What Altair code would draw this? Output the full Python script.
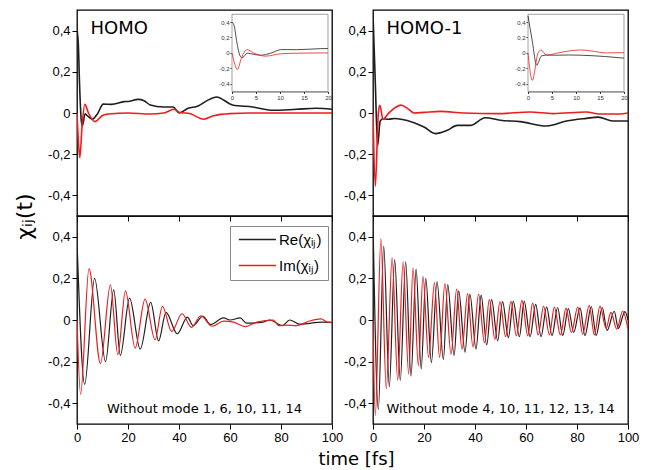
import altair as alt
import pandas as pd

# ---------------- data (t in fs, chi value) ----------------
# HOMO (top-left)
TL_RE_T = [0, 0.5, 1.0, 1.7, 2.1, 3.2, 3.8, 6.0, 8.0, 10.3, 13.5, 18.5, 20.0, 24.0, 26.3, 28.7, 33.9, 37.7, 40.1, 43.6,
           47.5, 51.0, 54.7, 61.0, 68.9, 76.7, 86.0, 93.8, 100]
TL_RE_V = [0.40, 0.34, 0.14, -0.04, -0.062, -0.004, -0.01, -0.03, -0.005, 0.043, 0.042, 0.055, 0.056, 0.066, 0.06,
           0.039, 0.029, 0.029, 0.0, 0.023, 0.034, 0.06, 0.078, 0.039, 0.029, 0.013, 0.018, 0.023, 0.018]
TL_IM_T = [0, 0.6, 1.1, 2.0, 3.1, 4.5, 7.0, 10.0, 12.5, 20.0, 28.6, 34.0, 38.0, 40.0, 44.5, 49.7, 53.6, 60.0, 68.0,
           80.0, 100]
TL_IM_V = [0, -0.15, -0.217, -0.06, 0.042, 0.0, -0.042, -0.012, -0.005, 0.0, -0.005, 0.0, 0.018, 0.004, -0.004,
           -0.03, -0.013, -0.003, 0.0, 0.0, 0.0]

# HOMO-1 (top-right)
TR_RE_T = [0, 0.9, 1.8, 2.8, 3.9, 6.0, 8.5, 11.0, 16.1, 20.0, 24.5, 29.1, 33.0, 38.2, 44.0, 49.9, 57.7, 68.1, 75.9,
           83.7, 88.2, 94.1, 100]
TR_RE_V = [0.48, 0.15, -0.16, -0.04, -0.028, -0.03, -0.027, -0.03, -0.047, -0.068, -0.1, -0.084, -0.06, -0.06,
           -0.023, -0.035, -0.042, -0.063, -0.039, -0.026, -0.02, -0.039, -0.039]
TR_IM_T = [0, 0.9, 2.1, 2.7, 3.9, 6.0, 8.0, 11.0, 13.8, 16.1, 20.0, 26.5, 35.6, 49.0, 61.6, 70.6, 83.7, 88.8, 96.6, 100]
TR_IM_V = [0, -0.355, 0.0, 0.037, -0.03, -0.003, 0.02, 0.038, 0.02, 0.0, 0.003, 0.008, 0.0, -0.003, 0.005, -0.003,
           0.005, -0.005, -0.005, 0.0]

# Without mode 1, 6, 10, 11, 14 (bottom-left)
BL_RE_T = [0, 3.0, 6.9, 11.2, 14.4, 17.0, 20.6, 24.8, 28.9, 32.0, 34.9, 39.3, 43.3, 45.5, 49.4, 52.3, 57.5, 60.0,
           64.0, 66.5, 73.0, 75.6, 80.5, 83.4, 87.3, 91.8, 96.0, 100]
BL_RE_V = [0.38, -0.31, 0.20, -0.20, 0.145, -0.17, 0.105, -0.14, 0.085, -0.10, 0.037, -0.066, 0.014, -0.027, 0.018,
           -0.022, 0.01, 0.0, 0.01, -0.015, -0.01, 0.0, -0.027, 0.0, -0.02, -0.015, -0.01, -0.012]
BL_IM_T = [0, 1.4, 4.7, 9.2, 13.1, 16.0, 19.0, 22.8, 26.7, 30.6, 33.5, 37.1, 41.2, 44.9, 48.6, 53.0, 57.5, 61.4,
           65.9, 70.5, 77.0, 79.0, 82.0, 86.0, 91.2, 95.7, 98.3, 100]
BL_IM_V = [0, -0.357, 0.247, -0.21, 0.169, -0.167, 0.14, -0.135, 0.10, -0.095, 0.066, -0.055, 0.03, -0.035, 0.02,
           -0.03, -0.005, -0.01, -0.032, -0.01, 0.0, -0.027, -0.025, -0.027, -0.005, 0.005, -0.01, -0.01]

# Without mode 4, 10, 11, 12, 13, 14 (bottom-right)
BR_RE_T = [0, 2.1, 4.2, 6.4, 8.5, 10.7, 12.8, 14.9, 16.9, 18.9, 20.7, 22.9, 25.1, 27.6, 29.3, 31.8, 33.6, 36.1,
           38.0, 40.4, 42.4, 44.6, 46.5, 48.9, 50.8, 53.1, 55.0, 57.4, 59.3, 61.6, 63.8, 65.9, 68.1, 70.2, 72.4,
           74.4, 76.6, 78.7, 81.2, 83.1, 85.6, 87.5, 89.9, 91.8, 94.6, 96.2, 98.8, 100]
BR_RE_V = [0.48, -0.43, 0.355, -0.32, 0.29, -0.29, 0.28, -0.27, 0.245, -0.235, 0.20, -0.205, 0.185, -0.19, 0.17,
           -0.17, 0.14, -0.155, 0.125, -0.14, 0.12, -0.12, 0.098, -0.10, 0.088, -0.085, 0.09, -0.08, 0.09, -0.08,
           0.075, -0.08, 0.063, -0.075, 0.06, -0.075, 0.055, -0.06, 0.058, -0.075, 0.065, -0.075, 0.06, -0.05,
           0.042, -0.04, 0.04, 0.0]
BR_IM_T = [0, 0.9, 3.1, 5.2, 7.5, 9.7, 11.8, 14.0, 15.7, 17.8, 19.6, 21.8, 24.1, 26.1, 28.2, 30.6, 32.8, 34.9,
           37.1, 39.2, 41.4, 43.7, 45.6, 47.8, 49.8, 52.0, 54.1, 56.2, 58.4, 60.7, 62.6, 64.8, 66.9, 69.2, 71.1,
           73.5, 75.7, 77.8, 80.3, 82.2, 84.8, 86.8, 89.0, 91.4, 93.3, 95.6, 97.9, 100]
BR_IM_V = [0, -0.46, 0.39, -0.33, 0.30, -0.29, 0.28, -0.26, 0.25, -0.22, 0.21, -0.18, 0.18, -0.18, 0.175, -0.165,
           0.148, -0.14, 0.127, -0.13, 0.124, -0.11, 0.098, -0.093, 0.089, -0.08, 0.09, -0.076, 0.094, -0.076,
           0.081, -0.072, 0.067, -0.072, 0.062, -0.072, 0.057, -0.06, 0.062, -0.068, 0.07, -0.072, 0.067, -0.04,
           0.037, -0.044, 0.042, -0.044]

SERIES = ["Re(χᵢⱼ)", "Im(χᵢⱼ)"]
PANEL_LABELS = ["HOMO", "HOMO-1"]
MODE_LABELS = ["Without mode 1, 6, 10, 11, 14", "Without mode 4, 10, 11, 12, 13, 14"]
X_TITLE = "time [fs]"
Y_TITLE = "χᵢⱼ(t)"
Y_TICKS = [-0.4, -0.3, -0.2, -0.1, 0.0, 0.1, 0.2, 0.3, 0.4]
X_TICKS = [0, 10, 20, 30, 40, 50, 60, 70, 80, 90, 100]
INSET_X_TICKS = [0, 5, 10, 15, 20]
INSET_Y_TICKS = [-0.4, -0.2, 0.0, 0.2, 0.4]

# ---------------- styling ----------------
BLACK = "#1e1e1e"
RED = "#ee1c1c"
LFONT = "Liberation Sans"
TFONT = "DejaVu Sans"
W = 255
H_TOP = 206
H_BOT = 208
INSET_X_RANGE = [155, 251]
INSET_Y_RANGE = [81.5, 4.3]

Y_LABEL_EXPR = ("round(datum.value*10) % 2 != 0 ? '' : (abs(datum.value) < 1e-9 ? '0' : "
                "(datum.value < 0 ? '-' : '') + replace(format(abs(datum.value), '.1f'), '.', ','))")
X_LABEL_EXPR = "round(datum.value/10) % 2 != 0 ? '' : '' + datum.value"
Y_TICK_SIZE = {"condition": {"test": "round(datum.value*10) % 2 != 0", "value": 3}, "value": 5}
X_TICK_SIZE = {"condition": {"test": "round(datum.value/10) % 2 != 0", "value": 3}, "value": 5}


def mk(t, v, name):
    return pd.DataFrame({"t": t, "v": v, "series": name})


def xs():
    return alt.Scale(domain=[0, 100], nice=False, zero=False)


def ys():
    return alt.Scale(domain=[-0.5, 0.5], nice=False, zero=False)


def y_axis(**kw):
    return alt.Axis(values=Y_TICKS, labelExpr=Y_LABEL_EXPR, tickSize=Y_TICK_SIZE, labelFont=LFONT,
                    labelFontSize=13, labelColor="black", tickColor="black", tickWidth=1, domain=False,
                    grid=False, labelPadding=2, labelFlush=False, labelOverlap=False, **kw)


def x_axis(labels, **kw):
    return alt.Axis(values=X_TICKS, labelExpr=X_LABEL_EXPR, labels=labels, tickSize=X_TICK_SIZE, labelFont=LFONT,
                    labelFontSize=13, labelColor="black", tickColor="black", tickWidth=1, domain=False,
                    grid=False, labelPadding=2, labelFlush=False, labelOverlap=False, **kw)


def line(df, color, sw, xaxis=alt.Undefined, yaxis=alt.Undefined):
    return alt.Chart(df).mark_line(color=color, strokeWidth=sw, interpolate="monotone", clip=True).encode(
        x=alt.X("t:Q", scale=xs(), axis=xaxis, title=None),
        y=alt.Y("v:Q", scale=ys(), axis=yaxis, title=None),
    )


def text(label, t, v, size, align="left", xtitle=None, ytitle=None):
    d = pd.DataFrame({"t": [t], "v": [v], "label": [label]})
    return alt.Chart(d).mark_text(font=TFONT, fontSize=size, align=align, baseline="middle",
                                  color="black").encode(
        x=alt.X("t:Q", scale=xs(), title=xtitle),
        y=alt.Y("v:Q", scale=ys(), title=ytitle),
        text="label:N",
    )


def inset(re_df, im_df, height):
    ixs = alt.Scale(domain=[0, 20], range=INSET_X_RANGE, nice=False, zero=False)
    iys = alt.Scale(domain=[-0.5, 0.5], range=INSET_Y_RANGE, nice=False, zero=False)
    box_df = pd.DataFrame({"t0": [0], "t1": [20], "v0": [-0.5], "v1": [0.5]})
    box = alt.Chart(box_df).mark_rect(fill="white", stroke="#8a8a8a", strokeWidth=0.8).encode(
        x=alt.X("t0:Q", scale=ixs, axis=alt.Axis(
            orient="bottom", offset=INSET_Y_RANGE[0] - height, values=INSET_X_TICKS, labelFont=LFONT,
            labelFontSize=6, tickSize=2, labelPadding=1, domainColor="#333", domainWidth=0.8,
            tickColor="#333", labelColor="#333", title=None, grid=False, labelFlush=False,
            labelOverlap=False)),
        x2="t1:Q",
        y=alt.Y("v0:Q", scale=iys, axis=alt.Axis(
            orient="left", offset=-INSET_X_RANGE[0], values=INSET_Y_TICKS, labelExpr=Y_LABEL_EXPR,
            labelFont=LFONT, labelFontSize=6, tickSize=2, labelPadding=1, domainColor="#333",
            domainWidth=0.8, tickColor="#333", labelColor="#333", title=None, grid=False,
            labelFlush=False, labelOverlap=False)),
        y2="v1:Q",
    )
    layers = [box]
    for df, color in [(re_df, BLACK), (im_df, RED)]:
        layers.append(alt.Chart(df).transform_filter("datum.t <= 20").mark_line(
            color=color, strokeWidth=0.8, interpolate="monotone").encode(
            x=alt.X("t:Q", scale=ixs, title=None),
            y=alt.Y("v:Q", scale=iys, title=None)))
    return alt.layer(*layers)


def top_panel(re_t, re_v, im_t, im_v, label):
    re_df = mk(re_t, re_v, SERIES[0])
    im_df = mk(im_t, im_v, SERIES[1])
    main = alt.layer(
        line(re_df, BLACK, 1.6, xaxis=x_axis(False, title=None), yaxis=y_axis(title=None)),
        line(im_df, RED, 1.6),
        text(label, 5.3, 0.41, 18),
    )
    return alt.layer(main, inset(re_df, im_df, H_TOP)).resolve_scale(
        x="independent", y="independent").properties(width=W, height=H_TOP)


# top panels
tl = top_panel(TL_RE_T, TL_RE_V, TL_IM_T, TL_IM_V, PANEL_LABELS[0])
tr = top_panel(TR_RE_T, TR_RE_V, TR_IM_T, TR_IM_V, PANEL_LABELS[1])

# bottom-left with legend and shared axis titles
bl_df = pd.concat([mk(BL_RE_T, BL_RE_V, SERIES[0]), mk(BL_IM_T, BL_IM_V, SERIES[1])])
bl_lines = alt.Chart(bl_df).mark_line(strokeWidth=1.2, interpolate="monotone", clip=True).encode(
    x=alt.X("t:Q", scale=xs(), title=X_TITLE,
            axis=x_axis(True, titleX=279, titleY=40, titleFont=TFONT, titleFontSize=18,
                        titleFontWeight="normal", titleBaseline="alphabetic", titleColor="black")),
    y=alt.Y("v:Q", scale=ys(), title=Y_TITLE,
            axis=y_axis(titleX=-53, titleY=0, titleAngle=270, titleBaseline="middle", titleFont=TFONT,
                        titleFontSize=22, titleFontWeight="normal", titleColor="black")),
    color=alt.Color("series:N", scale=alt.Scale(domain=SERIES, range=[BLACK, RED]),
                    legend=alt.Legend(orient="none", legendX=153, legendY=10, title=None,
                                      strokeColor="#8a8a8a", fillColor="white", padding=6,
                                      symbolType="M-1,0L7,0", symbolSize=86, symbolStrokeWidth=1.3,
                                      labelFont=LFONT, labelFontSize=15, labelColor="black",
                                      rowPadding=10, labelOffset=28)),
)
bl = alt.layer(
    bl_lines,
    text(MODE_LABELS[0], 50, -0.428, 13, align="center", xtitle=X_TITLE, ytitle=Y_TITLE),
).properties(width=W, height=H_BOT)

# bottom-right
br_re = mk(BR_RE_T, BR_RE_V, SERIES[0])
br_im = mk(BR_IM_T, BR_IM_V, SERIES[1])
br = alt.layer(
    line(br_re, BLACK, 1.2, xaxis=x_axis(True, title=None), yaxis=y_axis(title=None)),
    line(br_im, RED, 1.2),
    text(MODE_LABELS[1], 50, -0.428, 13, align="center"),
).properties(width=W, height=H_BOT)

chart = alt.concat(
    tl, tr, bl, br, columns=2, spacing={"row": 0, "column": 41}, bounds="flush"
).resolve_scale(color="independent").properties(
    padding={"left": 4, "top": 1, "right": 0, "bottom": 0}
).configure_view(stroke="black", strokeWidth=1.3)

chart.save("out.html", embed_options={"renderer": "svg", "actions": False})
